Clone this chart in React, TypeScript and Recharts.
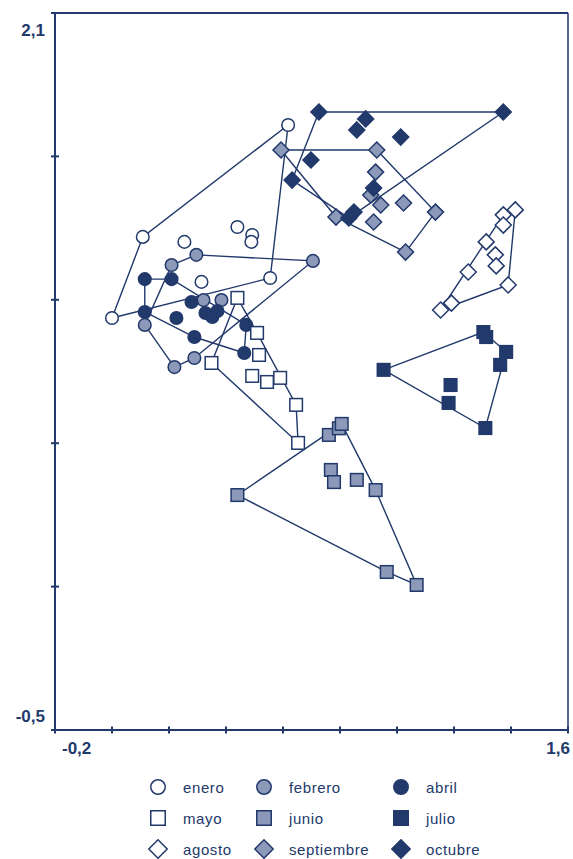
import React from 'react';
import { ScatterChart, Scatter, XAxis, YAxis, ReferenceLine } from 'recharts';

const NAVY = '#22396b';
const GRAY = '#8d99b9';
const WHITE = '#ffffff';

const xTicks = [-0.2, 0, 0.2, 0.4, 0.6, 0.8, 1.0, 1.2, 1.4, 1.6];
const xTickLabels = ['-0,2', '', '', '', '', '', '', '', '', '1,6'];
const yTicks = [2.1, 1.58, 1.06, 0.54, 0.02, -0.5];
const yTickLabels = ['2,1', '', '', '', '', '-0,5'];

type P = { x: number; y: number };

const enero: P[] = [
  { x: 0.618, y: 1.694 }, { x: 0.108, y: 1.288 }, { x: 0.0, y: 0.994 }, { x: 0.555, y: 1.139 },
  { x: 0.254, y: 1.27 }, { x: 0.314, y: 1.125 }, { x: 0.44, y: 1.324 }, { x: 0.492, y: 1.295 },
  { x: 0.489, y: 1.27 },
];
const febrero: P[] = [
  { x: 0.296, y: 1.223 }, { x: 0.209, y: 1.186 }, { x: 0.705, y: 1.201 }, { x: 0.115, y: 0.969 },
  { x: 0.219, y: 0.816 }, { x: 0.289, y: 0.849 }, { x: 0.384, y: 1.059 }, { x: 0.321, y: 1.059 },
];
const abril: P[] = [
  { x: 0.115, y: 1.135 }, { x: 0.209, y: 1.135 }, { x: 0.115, y: 1.016 }, { x: 0.226, y: 0.994 },
  { x: 0.279, y: 1.052 }, { x: 0.328, y: 1.012 }, { x: 0.352, y: 0.998 }, { x: 0.37, y: 1.019 },
  { x: 0.289, y: 0.925 }, { x: 0.471, y: 0.969 }, { x: 0.464, y: 0.867 },
];
const mayo: P[] = [
  { x: 0.44, y: 1.067 }, { x: 0.509, y: 0.94 }, { x: 0.516, y: 0.86 }, { x: 0.492, y: 0.784 },
  { x: 0.544, y: 0.762 }, { x: 0.59, y: 0.777 }, { x: 0.646, y: 0.679 }, { x: 0.653, y: 0.541 },
  { x: 0.349, y: 0.831 },
];
const junio: P[] = [
  { x: 0.44, y: 0.352 }, { x: 0.761, y: 0.57 }, { x: 0.796, y: 0.594 }, { x: 0.806, y: 0.61 },
  { x: 0.768, y: 0.443 }, { x: 0.779, y: 0.399 }, { x: 0.859, y: 0.407 }, { x: 0.925, y: 0.37 },
  { x: 0.964, y: 0.073 }, { x: 1.069, y: 0.026 },
];
const julio: P[] = [
  { x: 0.953, y: 0.806 }, { x: 1.303, y: 0.943 }, { x: 1.313, y: 0.925 }, { x: 1.383, y: 0.871 },
  { x: 1.362, y: 0.824 }, { x: 1.188, y: 0.751 }, { x: 1.181, y: 0.686 }, { x: 1.31, y: 0.595 },
];
const agosto: P[] = [
  { x: 1.415, y: 1.386 }, { x: 1.373, y: 1.368 }, { x: 1.373, y: 1.331 }, { x: 1.313, y: 1.27 },
  { x: 1.345, y: 1.223 }, { x: 1.348, y: 1.183 }, { x: 1.25, y: 1.161 }, { x: 1.39, y: 1.114 },
  { x: 1.191, y: 1.048 }, { x: 1.153, y: 1.023 },
];
const septiembre: P[] = [
  { x: 0.593, y: 1.603 }, { x: 0.929, y: 1.603 }, { x: 0.925, y: 1.523 }, { x: 0.908, y: 1.44 },
  { x: 0.943, y: 1.404 }, { x: 1.023, y: 1.411 }, { x: 1.135, y: 1.378 }, { x: 0.918, y: 1.342 },
  { x: 0.786, y: 1.36 }, { x: 1.03, y: 1.233 },
];
const octubre: P[] = [
  { x: 0.726, y: 1.741 }, { x: 1.373, y: 1.741 }, { x: 0.89, y: 1.716 }, { x: 0.859, y: 1.676 },
  { x: 1.013, y: 1.65 }, { x: 0.698, y: 1.567 }, { x: 0.632, y: 1.494 }, { x: 0.918, y: 1.465 },
  { x: 0.849, y: 1.378 }, { x: 0.831, y: 1.357 },
];

type Kind = 'circle' | 'square' | 'diamond';
const series: { name: string; data: P[]; kind: Kind; fill: string }[] = [
  { name: 'enero', data: enero, kind: 'circle', fill: WHITE },
  { name: 'febrero', data: febrero, kind: 'circle', fill: GRAY },
  { name: 'abril', data: abril, kind: 'circle', fill: NAVY },
  { name: 'mayo', data: mayo, kind: 'square', fill: WHITE },
  { name: 'junio', data: junio, kind: 'square', fill: GRAY },
  { name: 'julio', data: julio, kind: 'square', fill: NAVY },
  { name: 'agosto', data: agosto, kind: 'diamond', fill: WHITE },
  { name: 'septiembre', data: septiembre, kind: 'diamond', fill: GRAY },
  { name: 'octubre', data: octubre, kind: 'diamond', fill: NAVY },
];

function convexHull(pts: P[]): P[] {
  const p = [...pts].sort((a, b) => a.x - b.x || a.y - b.y);
  const cross = (o: P, a: P, b: P) => (a.x - o.x) * (b.y - o.y) - (a.y - o.y) * (b.x - o.x);
  const lower: P[] = [];
  for (const q of p) {
    while (lower.length >= 2 && cross(lower[lower.length - 2], lower[lower.length - 1], q) <= 0) lower.pop();
    lower.push(q);
  }
  const upper: P[] = [];
  for (let i = p.length - 1; i >= 0; i--) {
    const q = p[i];
    while (upper.length >= 2 && cross(upper[upper.length - 2], upper[upper.length - 1], q) <= 0) upper.pop();
    upper.push(q);
  }
  upper.pop();
  lower.pop();
  const h = lower.concat(upper);
  return [...h, h[0]];
}

function drawMarker(kind: Kind, fill: string, cx: number, cy: number, scale = 1) {
  const sw = 1.5;
  if (kind === 'circle') {
    return <circle cx={cx} cy={cy} r={6.3 * scale} fill={fill} stroke={NAVY} strokeWidth={sw} />;
  }
  if (kind === 'square') {
    const s = 6.3 * scale;
    return <rect x={cx - s} y={cy - s} width={2 * s} height={2 * s} fill={fill} stroke={NAVY} strokeWidth={sw} />;
  }
  const d = 8 * scale;
  return (
    <polygon
      points={`${cx},${cy - d} ${cx + d},${cy} ${cx},${cy + d} ${cx - d},${cy}`}
      fill={fill}
      stroke={NAVY}
      strokeWidth={sw}
    />
  );
}

const makeShape = (kind: Kind, fill: string) => (props: any) => {
  const { cx, cy } = props;
  if (cx == null || cy == null) return <g />;
  return drawMarker(kind, fill, cx, cy);
};

const emptyShape = () => <g />;

const fontFamily = '"Liberation Sans", Arial, sans-serif';

const XTick = (props: any) => {
  const { x, y, payload } = props;
  const i = xTicks.indexOf(payload.value);
  const label = i >= 0 ? xTickLabels[i] : '';
  const first = i === 0;
  return (
    <g>
      <line x1={x} x2={x} y1={y - 3.5} y2={y + 3.5} stroke={NAVY} strokeWidth={2} />
      {label ? (
        <text
          x={first ? x + 7 : x + 2}
          y={y + 24}
          textAnchor={first ? 'start' : 'end'}
          fill={NAVY}
          fontSize={17}
          fontWeight="bold"
          fontFamily={fontFamily}
        >
          {label}
        </text>
      ) : null}
    </g>
  );
};

const YTick = (props: any) => {
  const { x, y, payload } = props;
  const i = yTicks.indexOf(payload.value);
  const label = i >= 0 ? yTickLabels[i] : '';
  const top = i === 0;
  return (
    <g>
      <line x1={x - 4} x2={x + 4} y1={y} y2={y} stroke={NAVY} strokeWidth={2} />
      {label ? (
        <text
          x={x - 10}
          y={top ? y + 23 : y - 8}
          textAnchor="end"
          fill={NAVY}
          fontSize={17}
          fontWeight="bold"
          fontFamily={fontFamily}
        >
          {label}
        </text>
      ) : null}
    </g>
  );
};

const colX = [148, 254, 391];
const rowY = [787, 818, 849];

export default function App() {
  return (
    <div style={{ position: 'absolute', left: 0, top: 0, width: 573, height: 859, background: '#fff' }}>
      <ScatterChart width={573} height={770} margin={{ top: 13, right: 5, bottom: 10, left: 0 }}>
        <XAxis
          type="number"
          dataKey="x"
          domain={[-0.2, 1.6]}
          ticks={xTicks}
          interval={0}
          height={30}
          tickSize={0}
          tickMargin={0}
          tickLine={false}
          axisLine={{ stroke: NAVY, strokeWidth: 2 }}
          tick={<XTick />}
          allowDataOverflow
        />
        <YAxis
          type="number"
          dataKey="y"
          domain={[-0.5, 2.1]}
          ticks={yTicks}
          interval={0}
          width={55}
          tickSize={0}
          tickMargin={0}
          tickLine={false}
          axisLine={{ stroke: NAVY, strokeWidth: 2 }}
          tick={<YTick />}
          allowDataOverflow
        />
        <ReferenceLine y={2.1} stroke={NAVY} strokeWidth={2} />
        <ReferenceLine x={1.6} stroke={NAVY} strokeWidth={1.5} />
        {series.map((s) => (
          <Scatter
            key={'hull-' + s.name}
            name={'hull-' + s.name}
            data={convexHull(s.data)}
            line={{ stroke: NAVY, strokeWidth: 1.4 }}
            lineType="joint"
            shape={emptyShape}
            legendType="none"
            isAnimationActive={false}
          />
        ))}
        {series.map((s) => (
          <Scatter
            key={s.name}
            name={s.name}
            data={s.data}
            shape={makeShape(s.kind, s.fill)}
            isAnimationActive={false}
          />
        ))}
      </ScatterChart>
      {series.map((s, i) => (
        <div
          key={'lg-' + s.name}
          style={{
            position: 'absolute',
            left: colX[i % 3],
            top: rowY[Math.floor(i / 3)] - 10,
            height: 20,
            display: 'flex',
            alignItems: 'center',
            fontFamily,
            fontSize: 15,
            color: NAVY,
            letterSpacing: 0.6,
            whiteSpace: 'nowrap',
          }}
        >
          <svg width={20} height={20} style={{ marginRight: 15 }}>
            {drawMarker(s.kind, s.fill, 10, 10, 1.15)}
          </svg>
          <span>{s.name}</span>
        </div>
      ))}
    </div>
  );
}
